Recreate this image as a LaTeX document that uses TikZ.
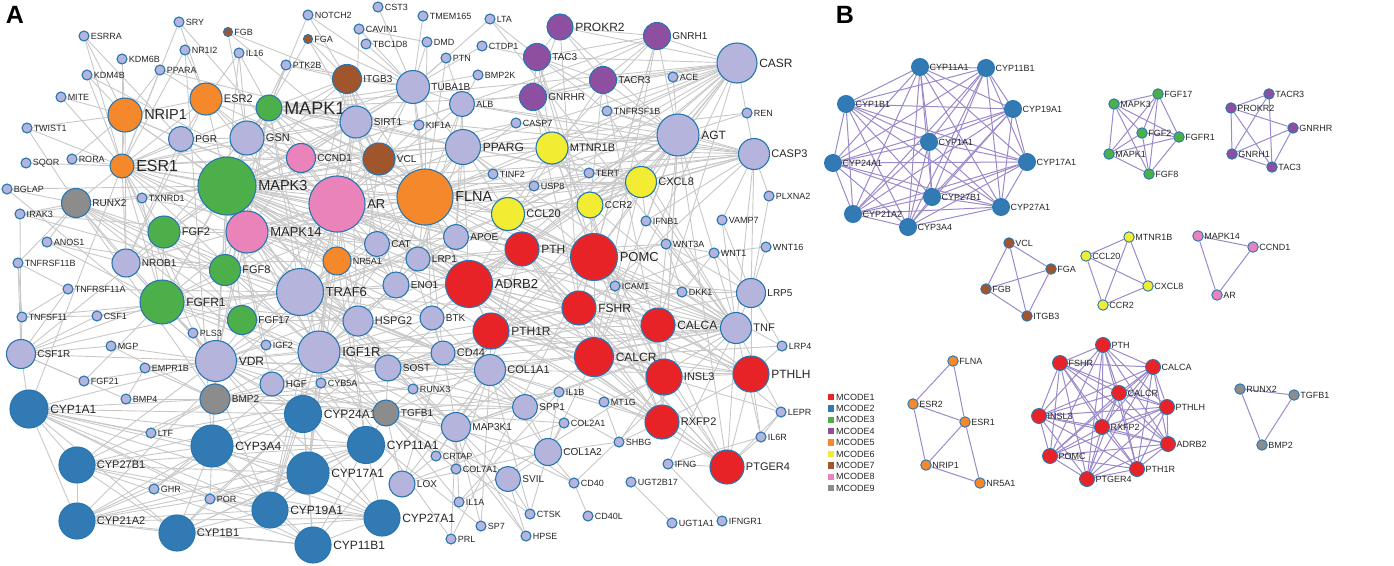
\documentclass[tikz,border=0pt]{standalone}
\usepackage{fontspec}
\setmainfont{Liberation Sans}
\usetikzlibrary{backgrounds}

\definecolor{lav}{RGB}{180,180,220}
\definecolor{rim}{RGB}{38,118,178}
\definecolor{mred}{RGB}{232,35,40}
\definecolor{mblue}{RGB}{50,122,180}
\definecolor{mgreen}{RGB}{77,175,74}
\definecolor{mpurple}{RGB}{142,79,160}
\definecolor{morange}{RGB}{245,136,42}
\definecolor{myellow}{RGB}{242,236,50}
\definecolor{mbrown}{RGB}{160,85,45}
\definecolor{mpink}{RGB}{233,131,185}
\definecolor{mgray}{RGB}{140,140,140}
\definecolor{edgegray}{RGB}{200,200,200}
\definecolor{edgelilac}{RGB}{155,138,202}

\tikzset{
  gnode/.style={circle,draw=rim,line width=1.1pt,inner sep=0pt},
  dot/.style={gnode,fill=lav,minimum size=10pt},
  bnode/.style={circle,draw=rim,line width=0.9pt,inner sep=0pt},
  lab9/.style={font=\fontsize{9}{10}\selectfont,inner sep=1pt,text=black!85},
  lab10/.style={font=\fontsize{10}{11}\selectfont,inner sep=1.2pt,text=black!85},
  lab11/.style={font=\fontsize{11}{12}\selectfont,inner sep=1.2pt,text=black!85},
  lab12/.style={font=\fontsize{12}{13}\selectfont,inner sep=1.5pt,text=black!85},
  lab13/.style={font=\fontsize{13}{14}\selectfont,inner sep=1.5pt,text=black!85},
  lab14/.style={font=\fontsize{14.5}{15}\selectfont,inner sep=1.5pt,text=black!85},
  lab16/.style={font=\fontsize{16}{17}\selectfont,inner sep=1.5pt,text=black!85},
  lab18/.style={font=\fontsize{18}{19}\selectfont,inner sep=1.5pt,text=black!85},
  blab/.style={font=\fontsize{9}{10}\selectfont,inner sep=0.5pt,text=black!85},
  aedge/.style={draw=edgegray,line width=0.9pt},
  bedge/.style={draw=edgelilac,line width=1pt},
  legsq/.style={rectangle,minimum size=6.5pt,inner sep=0pt},
}

% every pair of the list is joined: #1 style, #2 name prefix, #3 names
\newcommand{\drawclique}[3]{%
  \foreach \a [count=\i] in {#3} {
    \foreach \b [count=\j] in {#3} {
      \ifnum\j>\i \draw[#1] (#2\a) -- (#2\b);\fi
    }
  }
}

\begin{document}
\begin{tikzpicture}[x=1pt,y=-1pt]
\useasboundingbox (0,0) rectangle (1394,565);

% panel letters
\node[font=\bfseries\fontsize{25}{25}\selectfont] (letterA) at (15,15) {A};
\node[font=\bfseries\fontsize{25}{25}\selectfont] (letterB) at (845,15) {B};

% A: genes outside the modules
\foreach \n/\x/\y in {SRY/179/22,ESRRA/84/36,NR1I2/185/50,IL16/239/53,KDM6B/122/59,
  PPARA/160/70,KDM4B/87/75,MITE/61/97,TWIST1/27/128,SQOR/26/163,RORA/72/159,BGLAP/7/189,
  NOTCH2/308/15,CST3/378/7,TMEM165/423/16,LTA/490/19,CAVIN1/359/29,TBC1D8/366/44,
  DMD/427/42,CTDP1/482/46,PTN/446/58,PTK2B/286/65,BMP2K/478/75,KIF1A/419/125,
  CASP7/516/123,TINF2/493/174,USP8/534/186,ACE/673/77,TNFRSF1B/607/111,REN/747/113,
  TERT/589/173,PLXNA2/769/196,TXNRD1/142/198,IRAK3/20/214,ANOS1/47/242,
  TNFRSF11B/18/263,TNFRSF11A/68/289,TNFSF11/22/317,CSF1/97/316,PLS3/193/333,
  MGP/111/346,IGF2/266/345,EMPR1B/145/368,FGF21/84/381,IFNB1/646/221,VAMP7/722/220,
  WNT3A/666/244,WNT1/714/253,WNT16/766/247,ICAM1/615/286,DKK1/682/292,LRP4/782/346,
  BMP4/126/399,LTF/151/433,GHR/154/489,POR/210/499,CYB5A/321/383,RUNX3/413/389,
  CRTAP/436/456,COL7A1/456/469,IL1A/459/502,CTSK/530/514,SP7/481/526,HPSE/526/536,
  PRL/451/539,IL1B/559/392,MT1G/604/402,LEPR/781/412,COL2A1/564/423,IL6R/761/437,
  SHBG/619/442,IFNG/668/464,CD40/574/483,UGT2B17/631/482,CD40L/588/516,
  UGT1A1/672/523,IFNGR1/722/521}
  \node[dot,label={[lab9]right:\n}] (\n) at (\x,\y) {};
\foreach \n/\x/\y in {FGB/228/32,FGA/308/39}
  \node[dot,fill=mbrown,minimum size=9pt,label={[lab9]right:\n}] (\n) at (\x,\y) {};

% A: larger nodes (name/x/y/diameter/colour/label)
\foreach \n/\x/\y/\d/\c/\f in {NRIP1/125/115/34/morange/lab14,ESR2/206/99/32/morange/lab11,
  PGR/181/139/25/lav/lab10,GSN/247/138/34/lav/lab11,ESR1/122/166/24/morange/lab16,
  MAPK1/269/108/26/mgreen/lab18,ITGB3/347/79/29/mbrown/lab10,TUBA1B/413/87/33/lav/lab10,
  ALB/462/104/25/lav/lab9,SIRT1/356/122/32/lav/lab10,PPARG/463/147/35/lav/lab12,
  CCND1/301/158/29/mpink/lab10,VCL/379/159/32/mbrown/lab10,PROKR2/560/27/26/mpurple/lab12,
  GNRH1/657/36/27/mpurple/lab10,TAC3/537/57/27/mpurple/lab10,CASR/737/63/40/lav/lab12,
  TACR3/603/80/27/mpurple/lab10,GNRHR/533/97/27/mpurple/lab10,AGT/678/135/42/lav/lab12,
  MTNR1B/552/148/32/myellow/lab11,CASP3/754/154/31/lav/lab11,CXCL8/641/182/31/myellow/lab11,
  CCL20/508/214/33/myellow/lab11,CCR2/590/205/26/myellow/lab10,RUNX2/76/203/29/mgray/lab10,
  FGF2/164/232/32/mgreen/lab11,MAPK14/247/232/42/mpink/lab13,NROB1/126/263/28/lav/lab10,
  FGF8/225/270/31/mgreen/lab11,FGFR1/162/302/44/mgreen/lab12,FGF17/242/320/29/mgreen/lab10,
  CSF1R/21/354/29/lav/lab10,VDR/216/361/41/lav/lab12,CAT/377/244/25/lav/lab10,
  APOE/456/237/25/lav/lab10,NR5A1/337/261/28/morange/lab9,LRP1/418/259/24/lav/lab10,
  PTH/522/249/34/mred/lab12,TRAF6/300/292/47/lav/lab13,ENO1/396/285/26/lav/lab10,
  ADRB2/469/284/47/mred/lab13,HSPG2/358/321/30/lav/lab11,BTK/432/318/24/lav/lab10,
  PTH1R/491/331/36/mred/lab12,IGF1R/319/352/42/lav/lab13,CD44/443/353/24/lav/lab11,
  SOST/388/368/26/lav/lab10,COL1A1/490/370/31/lav/lab11,POMC/594/257/47/mred/lab13,
  FSHR/579/308/34/mred/lab12,CALCA/658/325/34/mred/lab12,LRP5/751/293/29/lav/lab10,
  TNF/736/328/31/lav/lab11,CALCR/594/357/39/mred/lab12,INSL3/664/377/36/mred/lab11,
  PTHLH/751/374/36/mred/lab12,BMP2/215/399/30/mgray/lab10,CYP1A1/29/409/38/mblue/lab12,
  CYP3A4/212/446/42/mblue/lab12,CYP27B1/77/465/36/mblue/lab11,CYP21A2/77/521/36/mblue/lab11,
  CYP1B1/177/533/36/mblue/lab11,HGF/272/384/24/lav/lab10,CYP24A1/303/414/37/mblue/lab12,
  TGFB1/386/413/26/mgray/lab10,MAP3K1/456/427/29/lav/lab10,SPP1/525/407/25/lav/lab10,
  CYP11A1/366/445/37/mblue/lab12,CYP17A1/308/473/42/mblue/lab12,LOX/402/484/26/lav/lab10,
  SVIL/508/479/25/lav/lab10,CYP19A1/270/510/36/mblue/lab12,CYP27A1/382/518/36/mblue/lab12,
  CYP11B1/313/545/36/mblue/lab12,RXFP2/662/422/34/mred/lab11,COL1A2/548/452/27/lav/lab10,
  PTGER4/727/467/34/mred/lab11,AR/337/204/56/mpink/lab13,FLNA/425/197/56/morange/lab14,
  MAPK3/227/186/58/mgreen/lab14}
  \node[gnode,fill=\c,minimum size=\d pt,label={[\f]right:\n}] (\n) at (\x,\y) {};

% A: interactions
\begin{scope}[on background layer]
\foreach \a/\bs in {ESR1/{ESRRA,KDM6B,KDM4B,NRIP1,ESR2,PGR,SRY,NR1I2,PPARA,RORA,TWIST1,MAPK3,MAPK1,AR,FLNA,CCND1,SIRT1,RUNX2,TXNRD1,NROB1,NR5A1,IGF1R,MAPK14,VDR,PPARG,CAT,GSN,FGFR1,MITE,SQOR,CYP19A1,CYP1A1,TRAF6},
  NRIP1/{ESRRA,KDM4B,KDM6B,PPARA,ESR2,PGR,NR5A1,AR,NROB1,TWIST1,MITE,RORA,MAPK3},
  ESR2/{SRY,NR1I2,PGR,AR,FLNA,MAPK1,NR5A1,NROB1,PPARA,IL16,MAPK3,SIRT1},
  PGR/{AR,NROB1,MAPK3,ESRRA,CCND1},
  MAPK3/{MAPK1,MAPK14,AR,FLNA,FGF2,FGF8,FGFR1,FGF17,CCND1,SIRT1,TRAF6,IGF1R,VDR,GSN,PPARG,TUBA1B,ITGB3,PTK2B,CAT,ENO1,TNF,CXCL8,CASP3,ADRB2,POMC,FSHR,CALCR,PTH1R,HSPG2,BTK,IGF2,CCL20,NR5A1,RUNX2,TXNRD1,IRAK3,BGLAP,VCL,ALB,HGF,CSF1R,MAP3K1,CASP7,IL16,CD44,BMP2,TGFB1,GNRH1,PTH,AGT},
  MAPK1/{MAPK14,AR,FLNA,FGF2,FGFR1,FGF8,PTK2B,ITGB3,SIRT1,GSN,TUBA1B,PPARG,CCND1,TRAF6,ADRB2,POMC,VDR,IGF1R,CASP3,TNF,FGA,NOTCH2,IL16,KIF1A,GNRHR,CASR},
  MAPK14/{AR,FLNA,TRAF6,FGF2,FGF8,FGFR1,VDR,IGF1R,CCND1,TNF,CXCL8,HSPG2,NR5A1,IRAK3,BTK,MAP3K1,CAT,ADRB2},
  AR/{FLNA,CCND1,SIRT1,NR5A1,NROB1,VCL,PPARG,TRAF6,IGF1R,VDR,POMC,CALCR,FSHR,INSL3,RXFP2,ADRB2,APOE,CAT,ENO1,LRP1,HSPG2,GSN,TUBA1B,KIF1A,TINF2,CASP7,ALB,SRY,PTH,FGF8,CYP17A1,CYP19A1,CYP11A1,KDM4B},
  FLNA/{TUBA1B,VCL,ITGB3,GSN,SIRT1,PPARG,ADRB2,PTH,POMC,APOE,LRP1,CCR2,CCL20,CXCL8,MTNR1B,ALB,TRAF6,IGF1R,CD44,ENO1,USP8,TINF2,CASP7,DMD,PTN,KIF1A,FGFR1,TNF,AGT,CASR,CASP3,CCND1,BTK,TERT,PTH1R,FSHR},
  TUBA1B/{ITGB3,SIRT1,ALB,DMD,PTN,TMEM165,CST3,TBC1D8,CAVIN1,GSN,VCL,PPARG,LTA,CTDP1,BMP2K,KIF1A,FGA,NOTCH2,PTK2B,CCND1},
  ITGB3/{FGA,FGB,VCL,PTK2B,GSN,IGF1R,TRAF6,CD44,HSPG2,NOTCH2,SIRT1},
  VCL/{FGA,FGB,SIRT1,GSN,HSPG2,CCND1},
  SIRT1/{PPARG,CCND1,CAT,ENO1,TRAF6,NR5A1,FGF2,GSN,CAVIN1},
  GSN/{PGR,ESR2,CCND1,FGB,IL16},
  PPARG/{ALB,AGT,APOE,LRP1,CCND1,ADRB2,POMC,CASP3,CXCL8,TNF,CASR,MTNR1B,CAT,TERT,REN,PPARA,CCL20,TINF2},
  ALB/{AGT,APOE,CASR,PTN,CASP3,LRP1,BMP2K},
  AGT/{CASR,ACE,REN,CASP3,GNRH1,TACR3,TAC3,POMC,ADRB2,CXCL8,CALCA,TNF,MTNR1B,TNFRSF1B,CCR2,PTH,CALCR,INSL3,RXFP2,TERT,IFNB1,PROKR2,CCL20,PTGER4,CYP11B1},
  CASR/{GNRH1,PROKR2,TACR3,CASP3,PTH,CALCA,CALCR,ADRB2,POMC,MTNR1B,PTH1R,ACE,TNFRSF1B,TAC3,GNRHR,VDR,CXCL8,CCL20},
  CASP3/{TNF,CXCL8,CCL20,IFNB1,LRP5,TNFRSF1B,CASP7,TERT,TRAF6,MAP3K1,VAMP7,PLXNA2,CCR2},
  GNRH1/{POMC,FSHR,MTNR1B,CALCR},
  GNRHR/{POMC,FSHR,INSL3},
  TAC3/{POMC,RXFP2,MTNR1B,CTDP1},
  TACR3/{INSL3,CCR2,ADRB2},
  PROKR2/{FSHR},
  LTA/{TNF,TNFRSF1B},
  CXCL8/{TNF,IFNB1,ICAM1,TERT,USP8,TRAF6},
  CCL20/{TNF,POMC,TRAF6},
  CCR2/{TNF,ICAM1,POMC,ADRB2},
  MTNR1B/{POMC,TERT},
  PTH/{VDR,CYP27B1,SOST,COL1A1,ICAM1,LRP1,CYP24A1},
  PTH1R/{VDR,COL1A1,SOST,CD44},
  PTHLH/{LRP5,IL6R,COL1A1,LRP4},
  PTGER4/{IL6R,LEPR,IFNG,TNF},
  ADRB2/{TRAF6,IGF1R,BTK,ENO1,LRP1},
  POMC/{LEPR,ICAM1,DKK1,WNT3A,PRL},
  CALCA/{TNF},
  INSL3/{MT1G,LEPR,SHBG},
  RXFP2/{IL1B,SHBG,MT1G},
  FSHR/{DKK1,IGF1R},
  CALCR/{COL1A2,SPP1},
  TNF/{IFNB1,ICAM1,WNT3A,DKK1,IL1B,IL6R,TRAF6,IGF1R,CD44,CD40,IL1A,MAP3K1,LEPR,COL1A1,TNFRSF1B,LRP5,IFNG,VAMP7,SOST,LTF},
  LRP5/{WNT1,WNT3A,WNT16,DKK1,LRP4,PLXNA2,VAMP7,SOST,LRP1},
  WNT3A/{DKK1,LRP1,WNT1},
  WNT1/{DKK1,WNT16,SOST},
  LRP4/{SOST,DKK1},
  DKK1/{SOST},
  TRAF6/{IGF1R,HSPG2,ENO1,VDR,FGFR1,CSF1R,BTK,CD44,IRAK3,TNFRSF11A,MAP3K1,CAT,NR5A1,COL1A1,CD40,TGFB1,TNFSF11,CSF1},
  IGF1R/{VDR,HSPG2,IGF2,HGF,FGFR1,SOST,CD44,COL1A1,BTK,CYB5A,FGF17,FGF8,TGFB1,MAP3K1,ENO1,CAT,SPP1,GHR,PRL,CYP17A1,CYP19A1},
  VDR/{CYP24A1,CYP27B1,CYP3A4,CYP1A1,BGLAP,RUNX2,CSF1R,MGP,PLS3,EMPR1B,BMP2,IGF2,CYP11A1,CYP17A1,HGF,SPP1,COL1A1,TGFB1,FGF21,NROB1,CYP27A1,SOST},
  FGFR1/{FGF2,FGF8,FGF17,ANOS1,NROB1,FGF21,CSF1,PLS3,IGF2,HSPG2,TXNRD1,CSF1R},
  FGF2/{FGF8,FGF17,NROB1,HSPG2,RUNX2,TXNRD1},
  FGF8/{FGF17,NROB1,ANOS1},
  FGF17/{HSPG2},
  CSF1R/{CSF1,TNFSF11,TNFRSF11A,TNFRSF11B,MGP,BMP4,FGF21,CYP1A1,IRAK3},
  TNFSF11/{TNFRSF11B,TNFRSF11A,CSF1},
  TNFRSF11B/{TNFRSF11A,RUNX2},
  RUNX2/{BGLAP,TWIST1,BMP2,TGFB1,COL1A1,SPP1,IRAK3,NROB1,ANOS1,RUNX3,SP7},
  NROB1/{NR5A1,ANOS1},
  BMP2/{BMP4,TGFB1,SOST,COL1A1,SPP1,EMPR1B,LTF,HGF,CYP3A4,MGP,COL2A1,CYP1A1,RUNX3},
  TGFB1/{COL1A1,COL1A2,SPP1,LOX,MAP3K1,RUNX3,IL1B,HGF,SOST,COL7A1,CRTAP,SVIL,IL1A,CTSK,CYB5A,CYP11A1},
  COL1A1/{COL1A2,COL2A1,SPP1,CD44,SOST,CRTAP,LOX,COL7A1,MAP3K1,IL1B,CTSK,MT1G,SHBG,BTK,SP7,HSPG2},
  CD44/{SPP1,HSPG2,HGF,BTK,MAP3K1,LOX},
  MAP3K1/{SVIL,IL1A,IL1B,CRTAP,COL7A1,CD40,SP7,HPSE,PRL,SPP1},
  COL1A2/{COL2A1,CD40,SHBG,SVIL,CTSK,SPP1,IL1B},
  CD40/{CD40L},
  UGT2B17/{UGT1A1},
  IFNG/{IFNGR1,IL6R},
  SHBG/{MT1G},
  SVIL/{HPSE,CTSK},
  POR/{CYP3A4,CYP1A1,CYP17A1,CYP19A1,CYP21A2,CYP11A1,CYP1B1,CYP27A1,CYP24A1},
  GHR/{CYP3A4,CYP21A2},
  LTF/{CYP1A1},
  CYB5A/{CYP17A1,CYP3A4,CYP11A1},
  NR5A1/{CYP11A1,CYP17A1,CYP19A1,CYP21A2},
  NR1I2/{CYP3A4},
  LOX/{COL1A2,CRTAP,COL2A1},
  HSPG2/{LRP1,APOE,SOST,HPSE},
  APOE/{LRP1,CAT,AGT},
  CAT/{TXNRD1,ENO1},
  DMD/{CAVIN1},
  EMPR1B/{BMP4},
  IL1A/{IL1B},
  IL6R/{LEPR}}
  \foreach \b in \bs \draw[aedge] (\a) -- (\b);
\drawclique{aedge}{}{CYP1A1,CYP27B1,CYP21A2,CYP1B1,CYP3A4,CYP24A1,CYP11A1,CYP17A1,CYP19A1,CYP27A1,CYP11B1}
\drawclique{aedge}{}{PTH,POMC,ADRB2,FSHR,PTH1R,CALCA,CALCR,INSL3,PTHLH,RXFP2,PTGER4}
\drawclique{aedge}{}{PROKR2,GNRH1,TAC3,TACR3,GNRHR}
\drawclique{aedge}{}{MTNR1B,CCL20,CXCL8,CCR2}
\end{scope}

% B: MCODE modules
\foreach \n/\x/\y in {CYP11A1/920/67,CYP11B1/986/68,CYP1B1/846/104,CYP19A1/1013/109,
  CYP1A1/929/142,CYP24A1/833/163,CYP17A1/1027/162,CYP27B1/932/197,CYP27A1/1001/207,
  CYP21A2/853/214,CYP3A4/908/227}
  \node[bnode,fill=mblue,minimum size=17pt,label={[blab]right:\n}] (b\n) at (\x,\y) {};
\foreach \n/\x/\y in {PTH/1103/345,FSHR/1060/363,CALCA/1153/367,CALCR/1119/393,
  PTHLH/1167/407,INSL3/1039/416,RXFP2/1102/427,ADRB2/1168/444,POMC/1050/456,
  PTH1R/1137/469,PTGER4/1087/479}
  \node[bnode,fill=mred,minimum size=15pt,label={[blab]right:\n}] (b\n) at (\x,\y) {};
\foreach \n/\x/\y/\c in {MAPK3/1114/104/mgreen,FGF17/1158/94/mgreen,FGF2/1142/133/mgreen,
  FGFR1/1179/137/mgreen,MAPK1/1109/154/mgreen,FGF8/1149/174/mgreen,
  TACR3/1269/94/mpurple,PROKR2/1231/108/mpurple,GNRHR/1293/128/mpurple,
  GNRH1/1232/154/mpurple,TAC3/1272/167/mpurple,
  VCL/1009/243/mbrown,FGA/1051/269/mbrown,FGB/986/289/mbrown,ITGB3/1027/316/mbrown,
  MTNR1B/1129/237/myellow,CCL20/1086/256/myellow,CXCL8/1148/286/myellow,CCR2/1103/305/myellow,
  MAPK14/1198/236/mpink,CCND1/1253/247/mpink,AR/1217/295/mpink,
  FLNA/953/361/morange,ESR2/913/404/morange,ESR1/965/422/morange,NRIP1/926/465/morange,
  NR5A1/980/483/morange,
  RUNX2/1240/389/mgray,TGFB1/1294/395/mgray,BMP2/1262/445/mgray}
  \node[bnode,fill=\c,minimum size=10.5pt,label={[blab]right:\n}] (b\n) at (\x,\y) {};

\begin{scope}[on background layer]
\drawclique{bedge}{b}{CYP11A1,CYP11B1,CYP1B1,CYP19A1,CYP1A1,CYP24A1,CYP17A1,CYP27B1,CYP27A1,CYP21A2,CYP3A4}
\drawclique{bedge}{b}{PTH,FSHR,CALCA,CALCR,PTHLH,INSL3,RXFP2,ADRB2,POMC,PTH1R,PTGER4}
\drawclique{bedge}{b}{MAPK3,FGF17,FGF2,FGFR1,MAPK1,FGF8}
\drawclique{bedge}{b}{VCL,FGA,FGB,ITGB3}
\drawclique{bedge}{b}{MTNR1B,CCL20,CXCL8,CCR2}
\drawclique{bedge}{b}{MAPK14,CCND1,AR}
\drawclique{bedge}{b}{RUNX2,TGFB1,BMP2}
\foreach \a/\b in {PROKR2/TACR3,PROKR2/GNRHR,PROKR2/GNRH1,PROKR2/TAC3,TACR3/GNRH1,
  TACR3/TAC3,GNRHR/GNRH1,GNRHR/TAC3,GNRH1/TAC3,
  FLNA/ESR2,FLNA/ESR1,ESR1/NR5A1,ESR2/ESR1,ESR2/NRIP1,ESR1/NRIP1,NRIP1/NR5A1}
  \draw[bedge] (b\a) -- (b\b);
\end{scope}

% legend
\foreach \t/\c [count=\i] in {MCODE1/mred,MCODE2/mblue,MCODE3/mgreen,MCODE4/mpurple,
  MCODE5/morange,MCODE6/myellow,MCODE7/mbrown,MCODE8/mpink,MCODE9/mgray}
{
  \node[legsq,fill=\c] (sq\i) at (831,{397+11.4*(\i-1)}) {};
  \node[blab,anchor=west] (lg\i) at ([xshift=1pt]sq\i.east) {\t};
}
\end{tikzpicture}
\end{document}
